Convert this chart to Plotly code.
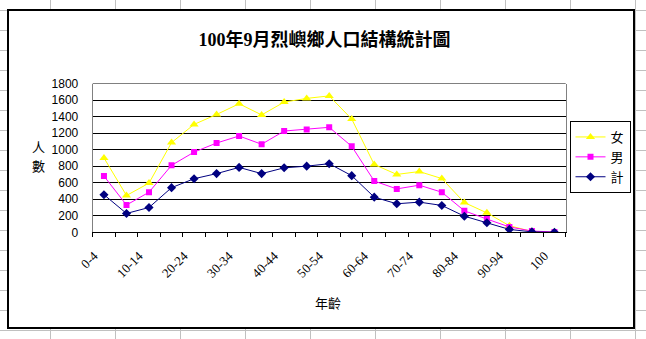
import plotly.graph_objects as go

# ---------------- data ----------------
age_groups = ["0-4", "5-9", "10-14", "15-19", "20-24", "25-29", "30-34", "35-39",
              "40-44", "45-49", "50-54", "55-59", "60-64", "65-69", "70-74", "75-79",
              "80-84", "85-89", "90-94", "95-99", "100"]
female = [900, 445, 595, 1085, 1305, 1425, 1555, 1420, 1575, 1620, 1650, 1370,
          820, 700, 735, 650, 360, 235, 80, 10, 3]
male = [680, 330, 485, 810, 970, 1080, 1165, 1065, 1225, 1245, 1270, 1040,
        620, 525, 570, 485, 260, 160, 65, 15, 4]
total = [455, 228, 300, 540, 648, 710, 785, 710, 780, 800, 830, 685,
         425, 345, 365, 325, 195, 115, 35, 5, 1]
series_names = ["女", "男", "計"]
y_ticks = [0, 200, 400, 600, 800, 1000, 1200, 1400, 1600, 1800]

title_text = "100年9月烈嶼鄉人口結構統計圖"
x_title = "年齡"
y_title = "人數"

# ---------------- layout helpers ----------------
W, H = 646, 339
def px(x):
    return x / W
def py(y):
    return 1 - y / H

colors = ["#FFFF00", "#FF00FF", "#000080"]
symbols = ["triangle-up", "square", "diamond"]
sizes = [8, 6, 7]

fig = go.Figure()
x_idx = list(range(len(age_groups)))
for name, vals, c, s, sz in zip(series_names, [female, male, total], colors, symbols, sizes):
    fig.add_trace(go.Scatter(
        x=x_idx, y=vals, name=name, mode="lines+markers",
        line=dict(color=c, width=1),
        marker=dict(color=c, symbol=s, size=sz, line=dict(width=0)),
        customdata=age_groups,
        hovertemplate="%{customdata}: %{y}<extra>" + name + "</extra>",
    ))

shapes = []
# spreadsheet cell grid behind the chart object
for k in range(17):
    yy = 10.5 + 20 * k
    shapes.append(dict(type="line", xref="paper", yref="paper", x0=0, x1=1,
                       y0=py(yy), y1=py(yy), line=dict(color="#c0c0c0", width=1),
                       layer="below"))
for k in range(10):
    xx = 50.5 + 65 * k
    shapes.append(dict(type="line", xref="paper", yref="paper", x0=px(xx), x1=px(xx),
                       y0=0, y1=1, line=dict(color="#c0c0c0", width=1),
                       layer="below"))
# chart object frame
shapes.append(dict(type="rect", xref="paper", yref="paper",
                   x0=px(8), x1=px(634), y0=py(328), y1=py(10),
                   fillcolor="white", line=dict(color="black", width=2), layer="below"))
# top border of plot area (gray)
shapes.append(dict(type="line", xref="x domain", yref="y domain", x0=0, x1=1, y0=1, y1=1,
                   line=dict(color="#808080", width=1), layer="above"))

annotations = [
    dict(text=x_title, x=px(328), y=py(302), xref="paper", yref="paper",
         showarrow=False, xanchor="center", yanchor="middle",
         font=dict(family="Noto Sans CJK TC", size=13, color="black")),
]
for i, ch in enumerate(y_title):
    annotations.append(dict(text=ch, x=px(38), y=py(146 + 19 * i), xref="paper", yref="paper",
                            showarrow=False, xanchor="center", yanchor="middle",
                            borderpad=0,
                            font=dict(family="Noto Sans CJK TC", size=13, color="black")))

fig.update_layout(
    template="none",
    width=W, height=H, margin=dict(l=0, r=0, t=0, b=0, autoexpand=False),
    paper_bgcolor="white", plot_bgcolor="#c0c0c0",
    title=dict(text="<b>" + title_text + "</b>", x=px(324.5), y=py(40),
               xanchor="center", yanchor="middle", xref="paper", yref="paper",
               font=dict(family="Liberation Serif, Noto Sans CJK TC", size=18, color="black")),
    shapes=shapes, annotations=annotations,
    showlegend=True,
    legend=dict(x=px(600), y=py(157), xanchor="center", yanchor="middle",
                bgcolor="white", bordercolor="black", borderwidth=1,
                font=dict(family="Noto Sans CJK TC", size=13, color="black"),
                itemwidth=30),
    xaxis=dict(domain=[px(92.7), px(565.7)], range=[-0.5, len(age_groups) - 0.5],
               automargin=False,
               tickmode="array", tickvals=x_idx[::2], ticktext=age_groups[::2],
               tickangle=-45, ticks="", showgrid=False, zeroline=False,
               showline=True, linecolor="black", linewidth=1,
               ticklabelshift=-10, ticklabelstandoff=10,
               tickfont=dict(family="Liberation Serif", size=13, color="black"),
               minor=dict(tick0=-0.5, dtick=1, ticks="outside", ticklen=4,
                          tickcolor="black", tickwidth=1, showgrid=False),
               fixedrange=True),
    yaxis=dict(domain=[1 - 232.3 / H, 1 - 83.5 / H], range=[0, 1800],
               automargin=False,
               tickmode="array", tickvals=y_ticks,
               showgrid=True, gridcolor="black", gridwidth=1, zeroline=False,
               showline=True, linecolor="#808080", linewidth=1, mirror=True,
               ticks="", ticklabelstandoff=11,
               tickfont=dict(family="Liberation Sans", size=12, color="black"),
               fixedrange=True),
)

fig.write_html("out.html")
